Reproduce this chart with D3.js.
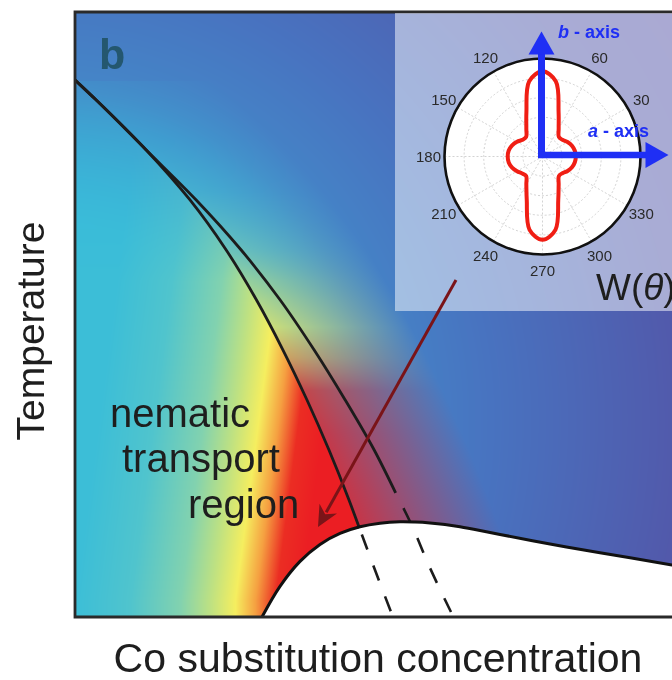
<!DOCTYPE html>
<html>
<head>
<meta charset="utf-8">
<script src="https://cdnjs.cloudflare.com/ajax/libs/d3/7.8.5/d3.min.js"></script>
<style>
body { margin: 0; background: #fff; }
#wrap { position: relative; width: 672px; height: 680px; overflow: hidden; }
#wrap canvas, #wrap svg { position: absolute; left: 0; top: 0; }
</style>
</head>
<body>
<div id="wrap"></div>
<script>
// Phase diagram curves as [Co concentration, temperature], arbitrary units 0..100
const sharedBranch = [[0, 88.76], [3.39, 85.45], [11.39, 77.19]];
const lowerLine = [[18.4, 68.93], [24.19, 60.66], [29.04, 52.40], [33.28, 44.13], [37.12, 35.87], [40.64, 27.60], [43.84, 19.34], [45.5, 14.71]];
const lowerDashed = [[45.5, 14.71], [48.0, 7.77], [50.56, 0.83]];
const upperLine = [[19.39, 68.93], [26.59, 60.66], [32.83, 52.40], [38.27, 44.13], [43.23, 35.87], [47.87, 27.60], [51.31, 20.50]];
const upperDashed = [[51.31, 20.50], [53.71, 15.54], [56.8, 8.10], [60.16, 0.83]];
const domeLine = [[29.92, 0], [32.8, 5.06], [36.0, 9.19], [39.2, 12.0], [42.4, 13.82], [45.6, 14.91], [48.8, 15.50], [52.0, 15.74],
                  [54.4, 15.70], [56.8, 15.55], [59.2, 15.29], [61.6, 14.91], [64.8, 14.30], [68.0, 13.64], [76.0, 12.07],
                  [84.0, 10.63], [95.52, 8.60], [100, 7.77]];
const arrowFrom = [60.96, 55.70];
const arrowTo = [38.88, 14.88];

// Inset: polar plot of W(theta), radius as a fraction of the outer ring
const polarAngles = [0, 10, 20, 30, 40, 50, 60, 70, 80, 90, 100, 110, 120, 130, 140, 150, 160, 170,
                     180, 190, 200, 210, 220, 230, 240, 250, 260, 270, 280, 290, 300, 310, 320, 330, 340, 350];
const polarRadii = [0.34, 0.335, 0.32, 0.295, 0.265, 0.26, 0.33, 0.48, 0.78, 0.87, 0.78, 0.48, 0.33, 0.26, 0.265, 0.30, 0.33, 0.35,
                    0.355, 0.35, 0.33, 0.30, 0.27, 0.26, 0.33, 0.47, 0.76, 0.85, 0.76, 0.47, 0.33, 0.26, 0.265, 0.295, 0.32, 0.335];
const polarTickLabels = [30, 60, 120, 150, 180, 210, 240, 270, 300, 330];
const polarSpokes = [0, 30, 60, 90, 120, 150, 180, 210, 240, 270, 300, 330];
const polarRings = [0.2, 0.4, 0.6, 0.8];

const width = 672, height = 680;
const font = "'Liberation Sans', Arial, Helvetica, sans-serif";

const x = d3.scaleLinear().domain([0, 100]).range([75, 700]);
const y = d3.scaleLinear().domain([0, 100]).range([617, 12]);

const wrap = d3.select("#wrap");

// ---------- background colour field (canvas) ----------
function rgbScale(stops, colors) {
    const s = [0, 1, 2].map(k => d3.scaleLinear().domain(stops).range(colors.map(c => c[k])).clamp(true));
    return v => [s[0](v), s[1](v), s[2](v)];
}
// horizontal "jet" band of the nematic side
const jet = rgbScale([75, 130, 180, 210, 235, 255, 275, 300],
    [[60, 190, 215], [80, 196, 205], [130, 210, 175], [190, 225, 130], [245, 238, 95], [245, 160, 65], [235, 45, 35], [235, 30, 35]]);
// cool background, by distance from lower left
const cool = rgbScale([0, 200, 330, 450, 650, 800],
    [[45, 185, 225], [50, 180, 222], [68, 135, 200], [72, 115, 192], [82, 88, 170], [85, 80, 165]]);

const edgePts = sharedBranch.concat(lowerLine, lowerDashed.slice(1));
const xEdge = d3.scaleLinear().domain(edgePts.map(p => y(p[1]))).range(edgePts.map(p => x(p[0])));
const edgeTop = y(sharedBranch[0][1]);

const mix = (a, b, t) => [a[0] + (b[0] - a[0]) * t, a[1] + (b[1] - a[1]) * t, a[2] + (b[2] - a[2]) * t];
const B = (px, py) => cool(Math.hypot(px - 40, py - 420));
function S(px, py) {
    const shift = Math.max(0, (600 - py) * 0.13);
    const fade = Math.max(0, Math.min(1, (280 - py) / 230)) * 0.95;
    return mix(jet(px - shift), B(px, py), fade);
}

const canvas = wrap.append("canvas").attr("width", width).attr("height", height).node();
const ctx = canvas.getContext("2d");
const img = ctx.createImageData(width, height);
const x0 = Math.round(x(0)), y0 = Math.round(y(100)), y1 = Math.round(y(0));
for (let py = y0; py <= y1; py++) {
    const xl = py < edgeTop ? -Infinity : xEdge(py);
    const sEdge = isFinite(xl) ? S(xl, py) : null;
    for (let px = x0; px < width; px++) {
        let c;
        if (px < xl) c = S(px, py);
        else if (!sEdge) c = B(px, py);
        else {
            const t = Math.min(1, 0.22 + 0.78 * (px - xl) / 140);
            c = mix(sEdge, B(px, py), t);
        }
        const i = (py * width + px) * 4;
        img.data[i] = c[0]; img.data[i + 1] = c[1]; img.data[i + 2] = c[2]; img.data[i + 3] = 255;
    }
}
ctx.putImageData(img, 0, 0);

// ---------- svg overlay ----------
const svg = wrap.append("svg").attr("width", width).attr("height", height);

const line = d3.line().x(d => x(d[0])).y(d => y(d[1])).curve(d3.curveMonotoneY);
const domeCurve = d3.line().x(d => x(d[0])).y(d => y(d[1])).curve(d3.curveCatmullRom.alpha(0.5));
const area = d3.area().x(d => x(d[0])).y0(y(0)).y1(d => y(d[1])).curve(d3.curveCatmullRom.alpha(0.5));

// dome (white, no nematic transport)
svg.append("path").attr("d", area(domeLine)).attr("fill", "#fff");

// transition lines
svg.append("path").attr("d", line(sharedBranch.concat(lowerLine)))
    .attr("fill", "none").attr("stroke", "#1c1c1c").attr("stroke-width", 2.8);
svg.append("path").attr("d", line(sharedBranch.concat(upperLine)))
    .attr("fill", "none").attr("stroke", "#1c1c1c").attr("stroke-width", 2.8);
[[lowerDashed, 26], [upperDashed, 16]].forEach(([d, off]) => {
    svg.append("path").attr("d", line(d))
        .attr("fill", "none").attr("stroke", "#1c1c1c").attr("stroke-width", 2.6)
        .attr("stroke-dasharray", "16,17").attr("stroke-dashoffset", off);
});
svg.append("path").attr("d", domeCurve(domeLine))
    .attr("fill", "none").attr("stroke", "#111").attr("stroke-width", 3);

// frame
svg.append("path")
    .attr("d", `M${width},${y(100)}H${x(0)}V${y(0)}H${width}`)
    .attr("fill", "none").attr("stroke", "#2a2a2a").attr("stroke-width", 2.8);

// panel letter and region label
svg.append("text").attr("x", 99).attr("y", 69)
    .attr("font-family", font).attr("font-weight", "bold").attr("font-size", 43)
    .attr("fill", "#24576f").text("b");

const regionLines = [["nematic", 110, 427], ["transport", 122, 472], ["region", 188, 518]];
svg.selectAll(".region").data(regionLines).enter().append("text")
    .attr("class", "region")
    .attr("x", d => d[1]).attr("y", d => d[2])
    .attr("font-family", font).attr("font-size", 40).attr("fill", "#1e1e1e")
    .text(d => d[0]);

// axis titles
svg.append("text").attr("x", 378).attr("y", 672).attr("text-anchor", "middle")
    .attr("font-family", font).attr("font-size", 41).attr("fill", "#1e1e1e")
    .text("Co substitution concentration");
svg.append("text").attr("transform", "translate(44,331) rotate(-90)").attr("text-anchor", "middle")
    .attr("font-family", font).attr("font-size", 39).attr("fill", "#1e1e1e")
    .text("Temperature");

// ---------- inset ----------
svg.append("rect").attr("x", 395).attr("y", y(100) + 1).attr("width", 300).attr("height", 298)
    .attr("fill", "#fff").attr("fill-opacity", 0.5);

const cx = 542.5, cy = 156.5, R = 98;
const r = d3.scaleLinear().domain([0, 1]).range([0, R]);
const polar = svg.append("g").attr("transform", `translate(${cx},${cy})`);
polar.append("circle").attr("r", R).attr("fill", "#fff");
polar.selectAll(".ring").data(polarRings).enter().append("circle")
    .attr("r", d => r(d)).attr("fill", "none")
    .attr("stroke", "#c8c8c8").attr("stroke-width", 0.8).attr("stroke-dasharray", "2,2");
polar.selectAll(".spoke").data(polarSpokes).enter().append("line")
    .attr("x2", d => r(1) * Math.cos(d * Math.PI / 180))
    .attr("y2", d => -r(1) * Math.sin(d * Math.PI / 180))
    .attr("stroke", "#c8c8c8").attr("stroke-width", 0.8).attr("stroke-dasharray", "2,2");
polar.append("circle").attr("r", R).attr("fill", "none").attr("stroke", "#111").attr("stroke-width", 2.6);

const radial = d3.lineRadial()
    .angle(d => (90 - d.a) * Math.PI / 180)
    .radius(d => r(d.r))
    .curve(d3.curveCatmullRomClosed.alpha(0.5));
polar.append("path")
    .attr("d", radial(polarAngles.map((a, i) => ({ a: a, r: polarRadii[i] }))))
    .attr("fill", "none").attr("stroke", "#f01e14").attr("stroke-width", 4);

polar.selectAll(".plab").data(polarTickLabels).enter().append("text")
    .attr("x", d => 114 * Math.cos(d * Math.PI / 180))
    .attr("y", d => -114 * Math.sin(d * Math.PI / 180))
    .attr("dy", "0.36em").attr("text-anchor", "middle")
    .attr("font-family", font).attr("font-size", 15).attr("fill", "#2a2a2a")
    .text(d => d);

// crystal axes
const blue = "#1f2ff5";
polar.append("line").attr("x1", -1).attr("y1", 1.5).attr("x2", -1).attr("y2", -103)
    .attr("stroke", blue).attr("stroke-width", 7);
polar.append("path").attr("d", "M-14,-102L12,-102L-1,-125Z").attr("fill", blue);
polar.append("line").attr("x1", -4.5).attr("y1", -1.5).attr("x2", 104).attr("y2", -1.5)
    .attr("stroke", blue).attr("stroke-width", 6.5);
polar.append("path").attr("d", "M103,-14.5L103,11.5L126,-1.5Z").attr("fill", blue);

const bLab = svg.append("text").attr("x", 558).attr("y", 38)
    .attr("font-family", font).attr("font-weight", "bold").attr("font-size", 18).attr("fill", blue);
bLab.append("tspan").attr("font-style", "italic").text("b");
bLab.append("tspan").text(" - axis");
const aLab = svg.append("text").attr("x", 588).attr("y", 137)
    .attr("font-family", font).attr("font-weight", "bold").attr("font-size", 18).attr("fill", blue);
aLab.append("tspan").attr("font-style", "italic").text("a");
aLab.append("tspan").text(" - axis");

const wLab = svg.append("text").attr("x", 596).attr("y", 300)
    .attr("font-family", font).attr("font-size", 37).attr("fill", "#1e1e1e");
wLab.append("tspan").text("W(");
wLab.append("tspan").attr("font-style", "italic").text("θ");
wLab.append("tspan").text(")");

// pointer arrow from inset to nematic region
const ax0 = x(arrowFrom[0]), ay0 = y(arrowFrom[1]), ax1 = x(arrowTo[0]), ay1 = y(arrowTo[1]);
const len = Math.hypot(ax1 - ax0, ay1 - ay0);
const ux = (ax1 - ax0) / len, uy = (ay1 - ay0) / len;
const hl = 21, hw = 10;
svg.append("line").attr("x1", ax0).attr("y1", ay0)
    .attr("x2", ax1 - ux * hl * 0.8).attr("y2", ay1 - uy * hl * 0.8)
    .attr("stroke", "#7a1418").attr("stroke-width", 3);
svg.append("path")
    .attr("d", `M${ax1},${ay1}L${ax1 - ux * hl - uy * hw},${ay1 - uy * hl + ux * hw}L${ax1 - ux * hl * 0.7},${ay1 - uy * hl * 0.7}L${ax1 - ux * hl + uy * hw},${ay1 - uy * hl - ux * hw}Z`)
    .attr("fill", "#7a1418");
</script>
</body>
</html>
